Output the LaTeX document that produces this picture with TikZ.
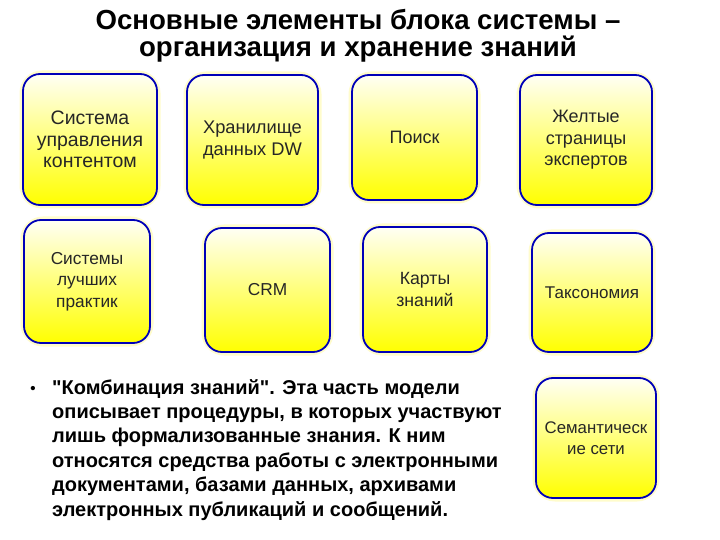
\documentclass[tikz,border=0pt]{standalone}
\usepackage{fontspec}
\setmainfont{Liberation Sans}
\newfontfamily\qfont{Liberation Sans}
\newcommand{\sq}{{\qfont\bfseries"}}
\begin{document}
\begin{tikzpicture}[x=1pt,y=-1pt,
  box/.style={draw=blue!72!black, line width=1.8pt, rounded corners=17pt,
    top color=yellow!4, bottom color=yellow, shading angle=0,
    text=black!85, align=center, inner sep=0pt},
  halo/.style={draw=yellow!20, line width=7pt, rounded corners=19pt},
  title/.style={font=\fontsize{27.6}{28}\selectfont\bfseries, anchor=base, inner sep=0pt},
  body/.style={font=\fontsize{20}{24.4}\selectfont\bfseries, align=left, anchor=base west, inner sep=0pt}
]
\path[use as bounding box] (0,0) rectangle (720,540);
\fill[white] (0,0) rectangle (720,540);

\node[title] (t1) at (358,30) {Основные элементы блока системы –};
\node[title] (t2) at (358,57) {организация и хранение знаний};

% boxes: x1,y1,x2,y2,name,fontsize,text
\newcommand{\mybox}[7]{%
  \draw[halo] (#1,#2) rectangle (#3,#4);
  \node[box, minimum width=#3-#1, minimum height=#4-#2,
    font=\fontsize{#6}{21.5}\selectfont] (#5) at ({(#1+#3)/2},{(#2+#4)/2}) {#7};
}
\mybox{23}{74}{157}{205}{b1}{19.5}{Система\\управления\\контентом}
\mybox{187}{75}{318}{205}{b2}{18.3}{Хранилище\\данных DW}
\mybox{352}{75}{477}{200}{b3}{18}{Поиск}
\mybox{520}{75}{652}{205}{b4}{18}{Желтые\\страницы\\экспертов}
\mybox{24}{220}{150}{343}{b5}{17.3}{Системы\\лучших\\практик}
\mybox{205}{228}{330}{352}{b6}{17.3}{CRM}
\mybox{363}{227}{487}{352}{b7}{17.7}{Карты\\знаний}
\mybox{532}{233}{652}{352}{b8}{17}{Таксономия}
\mybox{536}{378}{656}{498}{b9}{16.8}{Семантическ\\ие сети}

\node[font=\fontsize{15}{15}\selectfont\bfseries, inner sep=0pt] (bul) at (33,390) {•};
\node[body] (txt) at (52,516) {\sq Комбинация знаний\sq. Эта часть модели\\
описывает процедуры, в которых участвуют\\
лишь формализованные знания. К ним\\
относятся средства работы с электронными\\
документами, базами данных, архивами\\
электронных публикаций и сообщений.};
\end{tikzpicture}
\end{document}
